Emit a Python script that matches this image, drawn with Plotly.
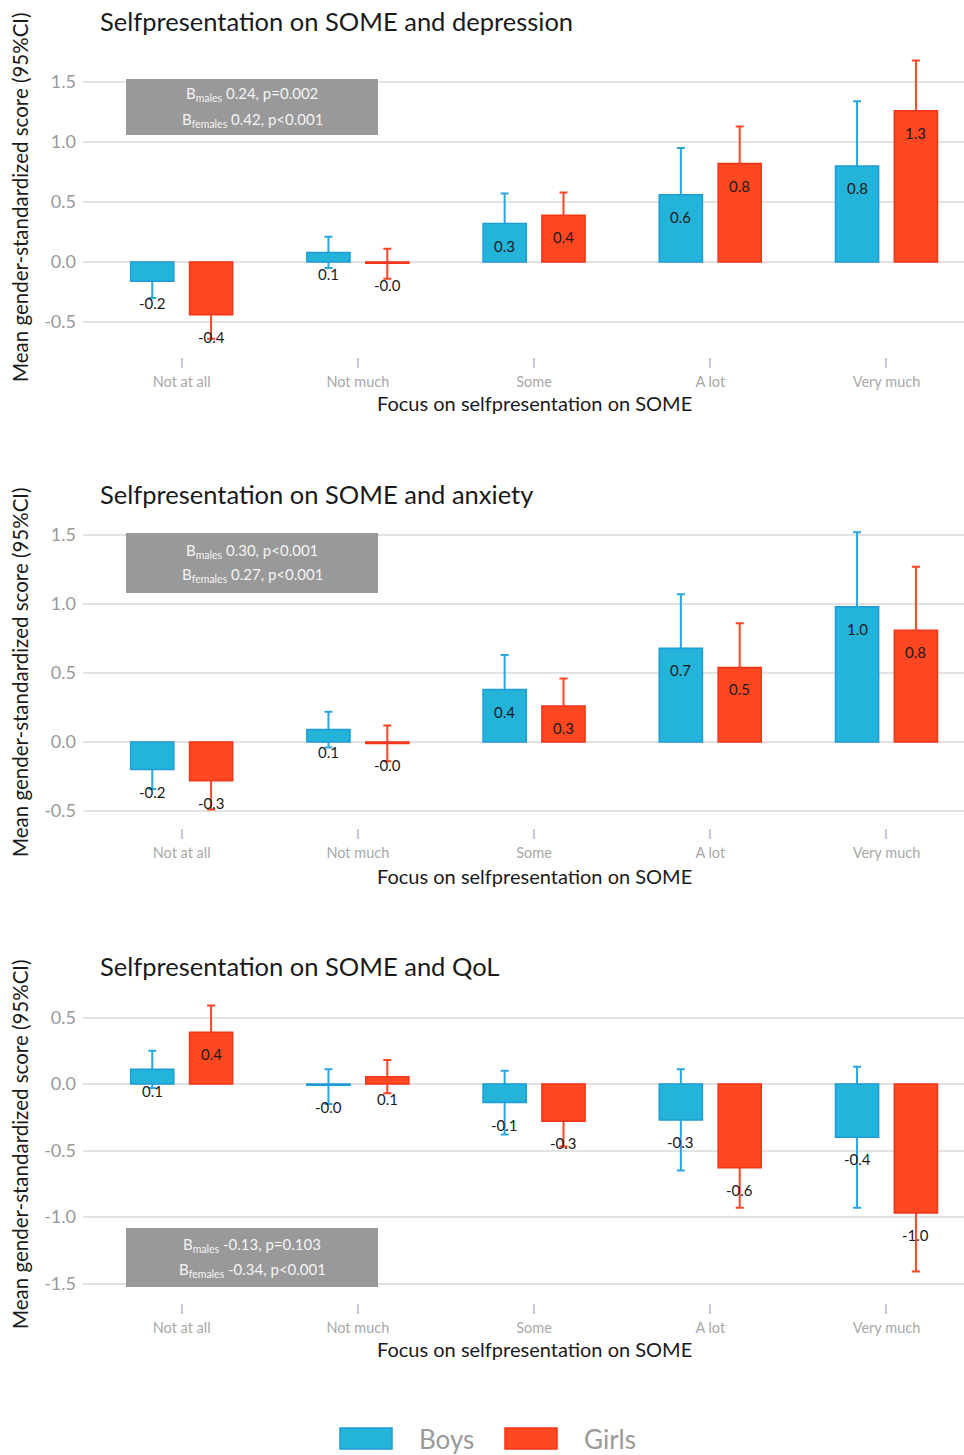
import plotly.graph_objects as go

categories = ["Not at all", "Not much", "Some", "A lot", "Very much"]

dep_boys = [-0.16, 0.08, 0.32, 0.56, 0.80]
dep_boys_lo = [-0.30, -0.05, 0.07, 0.17, 0.26]
dep_boys_hi = [-0.02, 0.21, 0.57, 0.95, 1.34]
dep_girls = [-0.44, -0.01, 0.39, 0.82, 1.26]
dep_girls_lo = [-0.64, -0.14, 0.20, 0.51, 0.84]
dep_girls_hi = [-0.24, 0.11, 0.58, 1.13, 1.68]

anx_boys = [-0.20, 0.09, 0.38, 0.68, 0.98]
anx_boys_lo = [-0.34, -0.04, 0.13, 0.29, 0.44]
anx_boys_hi = [-0.06, 0.22, 0.63, 1.07, 1.52]
anx_girls = [-0.28, -0.01, 0.26, 0.54, 0.81]
anx_girls_lo = [-0.49, -0.14, 0.06, 0.22, 0.35]
anx_girls_hi = [-0.07, 0.12, 0.46, 0.86, 1.27]

qol_boys = [0.11, -0.01, -0.14, -0.27, -0.40]
qol_boys_lo = [-0.03, -0.15, -0.38, -0.65, -0.93]
qol_boys_hi = [0.25, 0.11, 0.10, 0.11, 0.13]
qol_girls = [0.39, 0.055, -0.28, -0.63, -0.97]
qol_girls_lo = [0.19, -0.07, -0.47, -0.93, -1.41]
qol_girls_hi = [0.59, 0.18, -0.10, -0.33, -0.53]

titles = ["Selfpresentation on SOME and depression",
          "Selfpresentation on SOME and anxiety",
          "Selfpresentation on SOME and QoL"]
stats_males = ["0.24, p=0.002", "0.30, p<0.001", "-0.13, p=0.103"]
stats_females = ["0.42, p<0.001", "0.27, p<0.001", "-0.34, p<0.001"]
tick_sets = [[-0.5, 0.0, 0.5, 1.0, 1.5], [-0.5, 0.0, 0.5, 1.0, 1.5],
             [-1.5, -1.0, -0.5, 0.0, 0.5]]
x_title = "Focus on selfpresentation on SOME"
y_title = "Mean gender-standardized score (95%CI)"
series_names = ["Boys", "Girls"]

data = [
    (dep_boys, dep_boys_lo, dep_boys_hi, dep_girls, dep_girls_lo, dep_girls_hi),
    (anx_boys, anx_boys_lo, anx_boys_hi, anx_girls, anx_girls_lo, anx_girls_hi),
    (qol_boys, qol_boys_lo, qol_boys_hi, qol_girls, qol_girls_lo, qol_girls_hi),
]

# page geometry (body margin removed by post_script, figure at page origin)
OX, OY = 0, 0
W, H = 964, 1455
PLOT_LEFT = 83          # page pixel where plot area starts
LM = PLOT_LEFT - OX     # figure left margin

layout_px = [
    dict(top=45, bottom=357, zero=262, scale=120, title_y=21, box=(79, 135), xtitle_y=402, ytitle_y=197),
    dict(top=520, bottom=828, zero=742, scale=138, title_y=494, box=(533, 593), xtitle_y=875, ytitle_y=672),
    dict(top=995, bottom=1303, zero=1084, scale=133, title_y=966, box=(1228, 1287), xtitle_y=1348, ytitle_y=1144),
]

def px_x(p):
    return (p - PLOT_LEFT) / (W - LM)

def px_y(p):
    return 1 - (p - OY) / H

BOY_FILL, BOY_LINE, BOY_ERR = "#24B4DA", "#1C9CD8", "#2AA6E0"
GIRL_FILL, GIRL_LINE, GIRL_ERR = "#FF4722", "#F2361A", "#FF4523"
OFF = 0.167
BW = 0.245
FONT = "Lato"

fig = go.Figure()
annotations = []
shapes = []
lay = {}

for k in range(3):
    g = layout_px[k]
    n = k + 1
    xa = "x" if n == 1 else f"x{n}"
    ya = "y" if n == 1 else f"y{n}"
    yo = f"y{n + 3}"
    xkey = "xaxis" if n == 1 else f"xaxis{n}"
    ykey = "yaxis" if n == 1 else f"yaxis{n}"
    yokey = f"yaxis{n + 3}"
    yr = [(g["zero"] - g["bottom"]) / g["scale"], (g["zero"] - g["top"]) / g["scale"]]
    dom = [px_y(g["bottom"]), px_y(g["top"])]
    xr = [-0.56, 4.44]

    b, blo, bhi, gm, glo, ghi = data[k]
    xb = [i - OFF for i in range(len(categories))]
    xg = [i + OFF for i in range(len(categories))]

    # error bars (drawn under the bars)
    for xs, m, lo, hi, col in [(xb, b, blo, bhi, BOY_ERR), (xg, gm, glo, ghi, GIRL_ERR)]:
        fig.add_trace(go.Scatter(
            x=xs, y=m, mode="markers", xaxis=xa, yaxis=ya,
            marker=dict(size=1, color="rgba(0,0,0,0)"), showlegend=False, hoverinfo="skip",
            error_y=dict(type="data", symmetric=False,
                         array=[h - v for h, v in zip(hi, m)],
                         arrayminus=[v - l for v, l in zip(m, lo)],
                         color=col, thickness=2, width=4)))
    # bars on overlay axis (drawn above error bars)
    for xs, m, fc, lc, nm in [(xb, b, BOY_FILL, BOY_LINE, series_names[0]),
                              (xg, gm, GIRL_FILL, GIRL_LINE, series_names[1])]:
        fig.add_trace(go.Bar(
            x=xs, y=m, width=BW, xaxis=xa, yaxis=yo, name=nm, showlegend=False,
            marker=dict(color=fc, line=dict(color=lc, width=1.5))))
        for xv, v in zip(xs, m):
            annotations.append(dict(x=xv, y=v, xref=xa, yref=ya, text=f"{v:.1f}",
                                    showarrow=False, yshift=-22,
                                    font=dict(family=FONT, size=15, color="#1a1a1a")))

    ticks = tick_sets[k]
    lay[xkey] = dict(domain=[0, 1], range=xr, anchor=ya, tickvals=list(range(len(categories))),
                     ticktext=categories, showgrid=False, zeroline=False, showline=False,
                     ticks="outside", ticklen=10, tickwidth=1.5, tickcolor="#c8c8d6",
                     ticklabelstandoff=2,
                     tickfont=dict(family=FONT, size=14.5, color="#a8a8a8"), automargin=False)
    lay[ykey] = dict(domain=dom, range=yr, anchor=xa, tickvals=ticks,
                     ticktext=[f"{t:.1f}" for t in ticks], showgrid=True, gridcolor="#e3e3e3",
                     gridwidth=1.5, zeroline=False, showline=False, ticks="",
                     ticklabelstandoff=6,
                     tickfont=dict(family=FONT, size=18, color="#999999"), automargin=False)
    lay[yokey] = dict(domain=dom, range=yr, anchor=xa, overlaying=ya, showgrid=False,
                      zeroline=False, showline=False, showticklabels=False, ticks="")

    # titles
    annotations.append(dict(x=px_x(98), y=px_y(g["title_y"]), xref="paper", yref="paper",
                            xanchor="left", yanchor="middle", showarrow=False, text=titles[k],
                            font=dict(family=FONT, size=25.5, color="#1a1a1a")))
    annotations.append(dict(x=2, y=px_y(g["xtitle_y"] + 1), xref=xa, yref="paper",
                            xanchor="center", yanchor="middle", showarrow=False, text=x_title,
                            font=dict(family=FONT, size=20, color="#1a1a1a")))
    annotations.append(dict(x=px_x(20), y=px_y(g["ytitle_y"]), xref="paper", yref="paper",
                            xanchor="center", yanchor="middle", showarrow=False, text=y_title,
                            textangle=-90, font=dict(family=FONT, size=20.5, color="#1a1a1a")))
    # stats box
    bt, bb = g["box"]
    shapes.append(dict(type="rect", xref="paper", yref="paper", x0=px_x(126), x1=px_x(378),
                       y0=px_y(bb), y1=px_y(bt), fillcolor="#999999", line=dict(width=0),
                       layer="above"))
    cy = (bt + bb) / 2
    annotations.append(dict(x=px_x(252), y=px_y(cy - 12.5), xref="paper", yref="paper",
                            xanchor="center", yanchor="middle",
                            showarrow=False, text=f"B<sub>males</sub> {stats_males[k]}",
                            font=dict(family=FONT, size=15, color="#f4f4f4")))
    annotations.append(dict(x=px_x(252), y=px_y(cy + 12.5), xref="paper", yref="paper",
                            xanchor="center", yanchor="middle",
                            showarrow=False, text=f"B<sub>females</sub> {stats_females[k]}",
                            font=dict(family=FONT, size=15, color="#f4f4f4")))

# legend (custom, with large swatches)
for name, fc, lc, sx0, tx in [(series_names[0], BOY_FILL, BOY_LINE, 340, 417),
                              (series_names[1], GIRL_FILL, GIRL_LINE, 505, 582)]:
    shapes.append(dict(type="rect", xref="paper", yref="paper", x0=px_x(sx0), x1=px_x(sx0 + 52),
                       y0=px_y(1449), y1=px_y(1428), fillcolor=fc, line=dict(color=lc, width=1.5)))
    annotations.append(dict(x=px_x(tx), y=px_y(1439), xref="paper", yref="paper",
                            xanchor="left", yanchor="middle", showarrow=False, text=name,
                            font=dict(family=FONT, size=26, color="#9a9a9a")))

fig.update_layout(
    width=W, height=H, margin=dict(l=LM, r=0, t=0, b=0),
    paper_bgcolor="white", plot_bgcolor="white", barmode="overlay",
    showlegend=False, annotations=annotations, shapes=shapes, **lay)

fig.write_html("out.html", config={"displayModeBar": False},
               post_script="document.body.style.margin='0';document.body.style.overflow='hidden';")
